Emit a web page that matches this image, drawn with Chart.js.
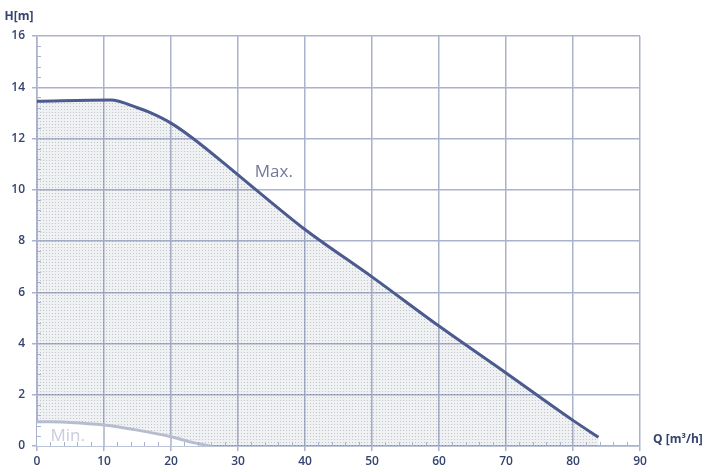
<!DOCTYPE html>
<html>
<head>
<meta charset="utf-8">
<script src="https://cdn.jsdelivr.net/npm/chart.js@4"></script>
<style>
  body { margin: 0; background: #fff; }
  #wrap { width: 709px; height: 472px; position: relative; }
</style>
</head>
<body>
<div id="wrap"><canvas id="myChart" width="709" height="472"></canvas></div>
<script>
const ctx = document.getElementById("myChart")

// Q [m3/h] and H [m]
const maxQ = [0, 11, 15, 17, 20, 23.3, 30, 35, 40, 50, 60, 70, 80, 83.8]
const maxH = [13.45, 13.5, 13.2, 13.0, 12.6, 12.0, 10.58, 9.5, 8.45, 6.6, 4.68, 2.85, 1.0, 0.34]
const minQ = [0, 5, 10, 15, 20, 23, 25.8]
const minH = [0.95, 0.92, 0.82, 0.62, 0.36, 0.15, 0]

const gridColor = '#aab2cc'
const tickColor = '#34446f'

// dotted fill, see-through so the grid stays visible
const pat = document.createElement('canvas')
pat.width = 3; pat.height = 3
const pctx = pat.getContext('2d')
pctx.fillStyle = 'rgba(110,115,140,0.10)'
pctx.fillRect(0, 0, 3, 3)
pctx.fillStyle = 'rgba(90,95,120,0.30)'
pctx.fillRect(1, 1, 1, 1)
const dots = pctx.createPattern(pat, 'repeat')

const toXY = (xs, ys) => xs.map((x, i) => ({x: x, y: ys[i]}))

// puts the grid back where the white "Min." fill covered it, plus minor ticks
const extras = {
  id: 'extras',
  beforeDatasetDraw(chart, args) {
    if (args.index !== 0) return
    const x = chart.scales.x, y = chart.scales.y
    const pts = chart.getDatasetMeta(0).data
    const c = chart.ctx
    c.save()
    c.beginPath()
    c.moveTo(pts[0].x, pts[0].y)
    pts.forEach(p => c.lineTo(p.x, p.y))
    c.lineTo(pts[pts.length - 1].x, y.bottom)
    c.lineTo(pts[0].x, y.bottom)
    c.closePath()
    c.fillStyle = '#ffffff'
    c.fill()
    c.clip()
    c.strokeStyle = gridColor
    c.lineWidth = 1.5
    for (let v = 10; v <= 30; v += 10) {
      const px = x.getPixelForValue(v)
      c.beginPath(); c.moveTo(px, y.top); c.lineTo(px, y.bottom); c.stroke()
    }
    c.restore()
  },
  afterDraw(chart) {
    const x = chart.scales.x, y = chart.scales.y
    const c = chart.ctx
    c.save()
    c.strokeStyle = gridColor
    c.lineWidth = 1
    for (let v = 0; v < 16; v += 0.4) {
      if (Math.abs(v / 2 - Math.round(v / 2)) < 0.01) continue
      const py = Math.round(y.getPixelForValue(v)) + 0.5
      c.beginPath(); c.moveTo(x.left, py); c.lineTo(x.left + 4, py); c.stroke()
    }
    for (let v = 2; v < 90; v += 2) {
      if (v % 10 === 0) continue
      const px = Math.round(x.getPixelForValue(v)) + 0.5
      c.beginPath(); c.moveTo(px, y.bottom); c.lineTo(px, y.bottom - 4); c.stroke()
    }
    c.font = 'bold 12px "Open Sans"'
    c.fillStyle = tickColor
    c.textBaseline = 'middle'
    c.textAlign = 'center'
    c.fillText('H[m]', 19, 17)
    c.textAlign = 'left'
    c.fillText('Q [m³/h]', 653, 440)
    c.font = '17px "Open Sans"'
    c.fillStyle = '#737a99'
    c.fillText('Max.', x.getPixelForValue(32.5), y.getPixelForValue(10.7))
    c.fillStyle = '#c9cdd9'
    c.fillText('Min.', x.getPixelForValue(2), y.getPixelForValue(0.4))
    c.restore()
  }
}

const data = {
  datasets: [{
    label: 'Min.',
    data: toXY(minQ, minH),
    borderColor: '#b7bdd0',
    borderWidth: 3,
    fill: false,
    pointRadius: 0,
    cubicInterpolationMode: 'monotone'
  }, {
    label: 'Max.',
    data: toXY(maxQ, maxH),
    borderColor: '#4b5a8f',
    backgroundColor: dots,
    borderWidth: 3,
    fill: 'origin',
    pointRadius: 0,
    cubicInterpolationMode: 'monotone'
  }]
}

const config = {
  type: 'line',
  data: data,
  options: {
    responsive: false,
    animation: false,
    layout: { padding: { top: 36, right: 69, left: 0, bottom: 0 } },
    plugins: {
      legend: { display: false },
      tooltip: { enabled: false }
    },
    scales: {
      x: {
        type: 'linear',
        min: 0, max: 90,
        afterFit(s) { s.height = 26 },
        ticks: { stepSize: 10, color: tickColor, padding: 3, maxRotation: 0,
                 font: { family: 'Open Sans', size: 12, weight: '600' } },
        grid: { color: gridColor, lineWidth: 1.5, tickLength: 5 },
        border: { color: gridColor, width: 1.5 }
      },
      y: {
        min: 0, max: 16,
        afterFit(s) { s.width = 37 },
        ticks: { stepSize: 2, color: tickColor, padding: 7,
                 font: { family: 'Open Sans', size: 12, weight: '600' } },
        grid: { color: gridColor, lineWidth: 1.5, tickLength: 5 },
        border: { color: gridColor, width: 1.5 }
      }
    }
  },
  plugins: [extras]
}

const myChart = new Chart(ctx, config)
</script>
</body>
</html>
